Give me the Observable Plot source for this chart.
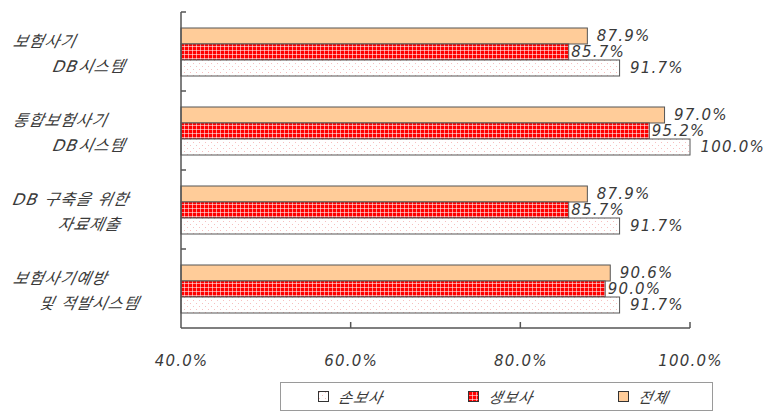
<!DOCTYPE html>
<html><head><meta charset="utf-8">
<script src="https://cdn.jsdelivr.net/npm/d3@7"></script>
<script src="https://cdn.jsdelivr.net/npm/@observablehq/plot@0.6"></script>
<style>
body{margin:0;background:#fff;}
#wrap{position:relative;width:772px;height:414px;overflow:hidden;}
#wrap svg text{letter-spacing:1.2px;}
.lg{position:absolute;left:280px;top:382px;width:433px;height:29px;border:1px solid #9a9a9a;box-sizing:border-box;
 font:italic 15px "DejaVu Sans","Noto Sans CJK KR",sans-serif;color:#3a3a3a;letter-spacing:1px;}
.item{position:absolute;top:0;height:27px;display:flex;align-items:center;}
.item span{display:inline-block;transform:skewX(-12deg);}
</style></head><body>
<svg width="0" height="0" style="position:absolute">
 <defs>
  <pattern id="pr" patternUnits="userSpaceOnUse" width="4" height="4">
   <rect width="4" height="4" fill="#ff0000"/>
   <path d="M0 0.5H4M0.5 0V4" stroke="#ffffff" stroke-opacity="0.55" stroke-width="1"/>
  </pattern>
  <pattern id="pw" patternUnits="userSpaceOnUse" width="6" height="6">
   <rect width="6" height="6" fill="#ffffff"/>
   <rect x="1" y="1" width="1" height="1" fill="#f08080" fill-opacity="0.5"/>
   <rect x="4" y="4" width="1" height="1" fill="#f08080" fill-opacity="0.5"/>
  </pattern>
 </defs>
</svg>
<div id="wrap"></div>
<script>
const categories = ["보험사기\nDB시스템", "통합보험사기\nDB시스템", "DB 구축을 위한\n자료제출", "보험사기예방\n및 적발시스템"];
const series = ["전체", "생보사", "손보사"];
const totalValues = [87.9, 97.0, 87.9, 90.6];
const lifeValues = [85.7, 95.2, 85.7, 90.0];
const nonlifeValues = [91.7, 100.0, 91.7, 91.7];
const xTicks = [40, 60, 80, 100];
const legendOrder = ["손보사", "생보사", "전체"];
const fills = {"전체": "#FFCC99", "생보사": "url(#pr)", "손보사": "url(#pw)"};

const valuesBySeries = {"전체": totalValues, "생보사": lifeValues, "손보사": nonlifeValues};
const rows = [];
categories.forEach((c, i) => series.forEach(s => rows.push({category: c, series: s, value: valuesBySeries[s][i]})));

const fmt = d => d.toFixed(1) + "%";
const labelDx = {"전체": 9, "생보사": 2, "손보사": 10};
const font = '"DejaVu Sans","Noto Sans CJK KR",sans-serif';
const catLines = new Set(categories.flatMap(c => c.split("\n")));

const plot = Plot.plot({
  width: 772, height: 375,
  marginTop: 10, marginBottom: 46, marginLeft: 181, marginRight: 82,
  x: {domain: [40, 100], axis: null},
  y: {domain: series, paddingInner: 0, paddingOuter: 0.92, axis: null},
  fy: {domain: categories, padding: 0, axis: null},
  color: {domain: series, range: series.map(s => fills[s])},
  style: {fontFamily: font, fontStyle: "italic", fontSize: "15px", color: "#3a3a3a", background: "transparent"},
  marks: [
    Plot.barX(rows, {x1: () => 40, x2: "value", y: "series", fy: "category", fill: "series", stroke: "#555", strokeWidth: 1}),
    ...series.map(s => Plot.text(rows.filter(r => r.series === s), {
      x: "value", y: "series", fy: "category", text: d => fmt(d.value),
      textAnchor: "start", dx: labelDx[s], fill: "#3a3a3a", fontSize: 15
    })),
    Plot.text(categories, {fy: d => d, text: d => d.split("\n")[0], frameAnchor: "left",
      textAnchor: "start", dx: -168, dy: -10, fontSize: 16, fill: "#3a3a3a"}),
    Plot.text(categories, {fy: d => d, text: d => d.split("\n")[1], frameAnchor: "left",
      textAnchor: "middle", dx: -92, dy: 15, fontSize: 16, fill: "#3a3a3a"}),
    Plot.axisX({ticks: xTicks, tickSize: 0, tickPadding: 27, tickFormat: fmt, fontSize: 15, fill: "#3a3a3a", label: null})
  ]
});

document.getElementById("wrap").appendChild(plot);

const svg = d3.select(plot);
// Korean glyphs have no italic face: slant the category labels about their own centre
svg.selectAll("text").filter(function() { return catLines.has(this.textContent); }).each(function() {
  this.style.letterSpacing = "1px";
  const wrapper = document.createElementNS("http://www.w3.org/2000/svg", "g");
  this.parentNode.insertBefore(wrapper, this);
  wrapper.appendChild(this);
  const b = wrapper.getBBox();
  const cx = b.x + b.width / 2, cy = b.y + b.height / 2;
  wrapper.setAttribute("transform", `translate(${cx},${cy}) skewX(-12) translate(${-cx},${-cy})`);
});

// axis lines and tick marks derived from Plot's scales
const sx = plot.scale("x"), sfy = plot.scale("fy");
const x0 = sx.apply(40);
const tops = categories.map(c => sfy.apply(c));
const bottom = tops[tops.length - 1] + sfy.bandwidth;
const g = svg.append("g").attr("stroke", "#555").attr("stroke-width", 1.5).attr("fill", "none");
g.append("line").attr("x1", x0).attr("x2", x0).attr("y1", tops[0]).attr("y2", bottom);
g.append("line").attr("x1", x0).attr("x2", sx.apply(100)).attr("y1", bottom).attr("y2", bottom);
tops.forEach(t => g.append("line").attr("x1", x0).attr("x2", x0 + 5).attr("y1", t).attr("y2", t));
xTicks.slice(1).forEach(v => g.append("line").attr("x1", sx.apply(v)).attr("x2", sx.apply(v)).attr("y1", bottom).attr("y2", bottom - 6));

// legend
const lg = d3.select("#wrap").append("div").attr("class", "lg");
legendOrder.forEach((s, i) => {
  const it = lg.append("div").attr("class", "item").style("left", (37 + 150 * i) + "px");
  it.append("svg").attr("width", 11).attr("height", 11).style("margin-right", "10px")
    .append("rect").attr("x", 0.5).attr("y", 0.5).attr("width", 10).attr("height", 10)
    .attr("fill", fills[s]).attr("stroke", "#333");
  it.append("span").text(s);
});
</script>
</body></html>
